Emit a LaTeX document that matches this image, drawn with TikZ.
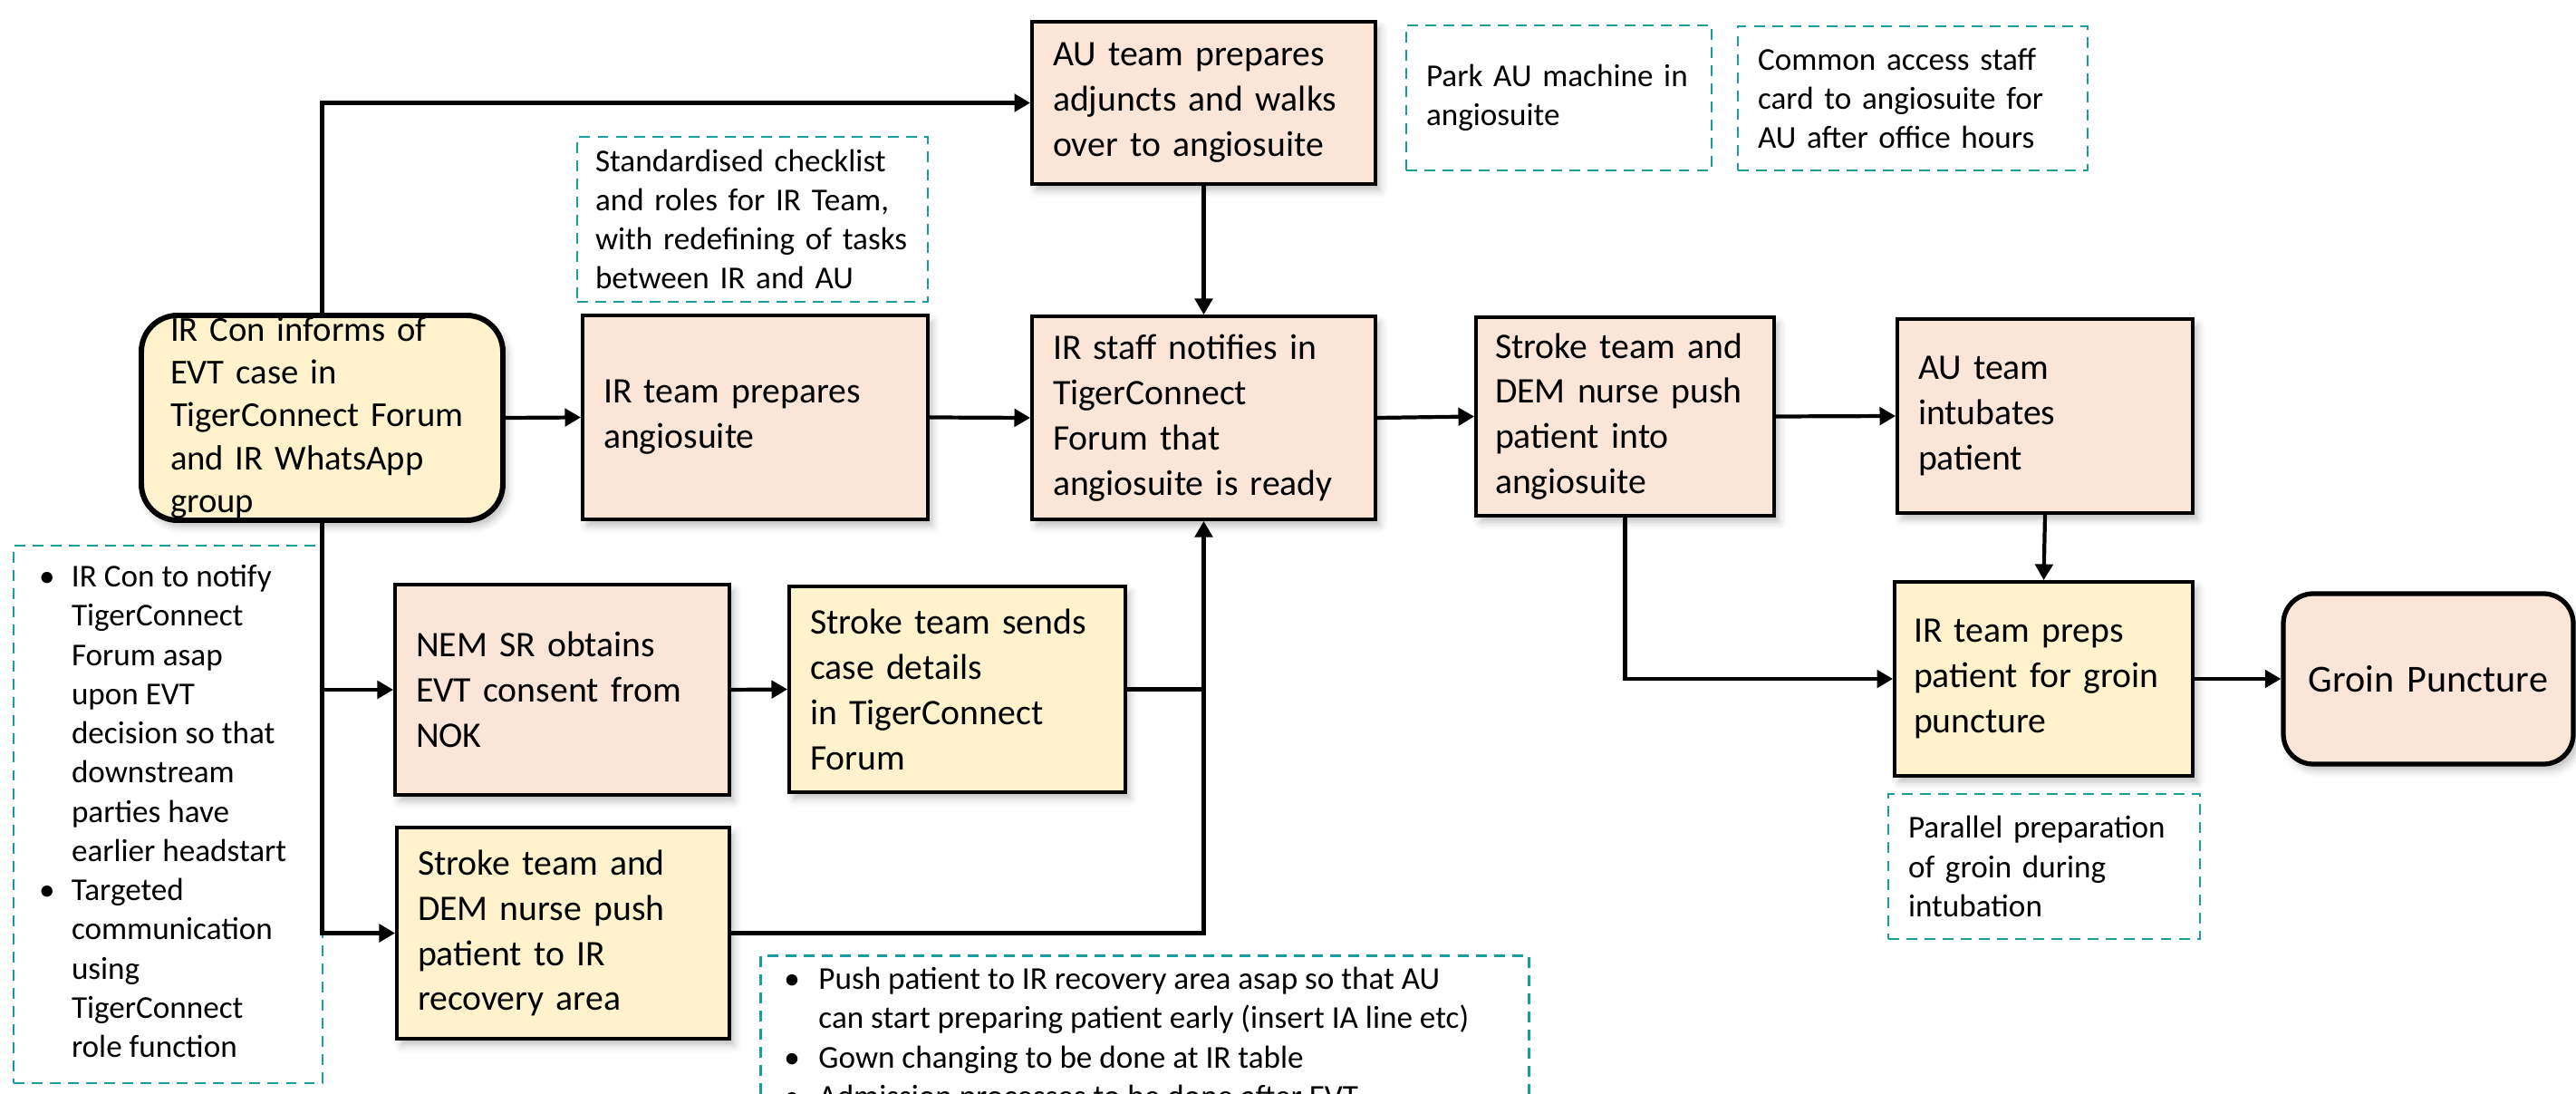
\documentclass[tikz,border=0pt]{standalone}
\usepackage{fontspec}
\setmainfont{Carlito}
\usepackage{xcolor}
\usepackage{tikz}
\usetikzlibrary{arrows.meta, positioning, shadows.blur}
\definecolor{boxpink}{RGB}{251, 229, 214}
\definecolor{boxyellow}{RGB}{255, 242, 204}
\definecolor{noteteal}{RGB}{25, 158, 158}

\tikzset{
    stepbox/.style={draw=black, line width=1.1pt, inner xsep=0.23cm, inner ysep=0pt,
        align=left, font=\fontsize{11.3}{14.2}\selectfont,
        blur shadow={shadow xshift=0.5mm, shadow yshift=-0.7mm, shadow blur radius=0.8mm, shadow opacity=25}},
    pinkbox/.style={stepbox, fill=boxpink},
    yellowbox/.style={stepbox, fill=boxyellow},
    notebox/.style={draw=noteteal, line width=0.8pt, dash pattern=on 3.4pt off 2.3pt,
        inner xsep=0.22cm, inner ysep=0pt, align=left, font=\fontsize{10}{12.3}\selectfont},
    conn/.style={draw=black, line width=1.2pt, -{Triangle[length=5pt, width=5.5pt]}},
}

\begin{document}
\begin{tikzpicture}
    \useasboundingbox (0, 0) rectangle (28.43, 12.06);

    % Notes
    \node[notebox, inner xsep=0.2cm, text width=3.47cm, minimum height=1.82cm] (checknote) at (8.305, 9.64) {Standardised checklist\\and roles for IR Team,\\with redefining of tasks\\between IR and AU};
    \node[notebox, text width=2.93cm, minimum height=1.60cm] (parknote) at (17.205, 10.98) {Park AU machine in\\angiosuite};
    \node[notebox, text width=3.42cm, minimum height=1.59cm] (cardnote) at (21.11, 10.975) {Common access staff\\card to angiosuite for\\AU after office hours};
    \node[notebox, text width=3.00cm, minimum height=1.60cm] (parallelnote) at (22.56, 2.50) {Parallel preparation\\of groin during\\intubation};
    \node[notebox, inner xsep=0.28cm, minimum height=5.93cm] (leftnote) at (1.855, 3.075) {%
        \begin{tabular}{@{}p{0.36cm}@{}p{2.49cm}@{}}
        \textbullet & IR Con to notify\newline TigerConnect\newline Forum asap\newline upon EVT\newline decision so that\newline downstream\newline parties have\newline earlier headstart\\
        \textbullet & Targeted\newline communication\newline using\newline TigerConnect\newline role function
        \end{tabular}};
    \node[notebox, anchor=north west, inner xsep=0.26cm, inner ysep=0.07cm] (bottomnote) at (8.38, 1.53) {%
        \begin{tabular}{@{}p{0.38cm}@{}p{7.58cm}@{}}
        \textbullet & Push patient to IR recovery area asap so that AU\newline can start preparing patient early (insert IA line etc)\\
        \textbullet & Gown changing to be done at IR table\\
        \textbullet & Admission processes to be done after EVT
        \end{tabular}};

    % Steps
    \node[yellowbox, rounded corners=0.4cm, line width=1.7pt, inner xsep=0.32cm, text width=3.35cm, minimum height=2.26cm,
        font=\fontsize{11}{13.5}\selectfont] (ircon) at (3.555, 7.45) {IR Con informs of\\EVT case in\\TigerConnect Forum\\and IR WhatsApp\\group};
    \node[pinkbox, text width=3.35cm, minimum height=2.25cm] (irprep) at (8.335, 7.455) {IR team prepares\\angiosuite};
    \node[pinkbox, text width=3.33cm, minimum height=1.79cm] (auprep) at (13.285, 10.925) {AU team prepares\\adjuncts and walks\\over to angiosuite};
    \node[pinkbox, text width=3.33cm, minimum height=2.24cm] (irnotify) at (13.285, 7.45) {IR staff notifies in\\TigerConnect\\Forum that\\angiosuite is ready};
    \node[pinkbox, inner xsep=0.21cm, text width=2.87cm, minimum height=2.19cm] (pushin) at (17.935, 7.465) {Stroke team and\\DEM nurse push\\patient into\\angiosuite};
    \node[pinkbox, text width=2.80cm, minimum height=2.14cm] (intubate) at (22.57, 7.47) {AU team\\intubates\\patient};
    \node[yellowbox, inner xsep=0.21cm, text width=2.87cm, minimum height=2.14cm] (preps) at (22.555, 4.57) {IR team preps\\patient for groin\\puncture};
    \node[pinkbox, rounded corners=0.33cm, line width=1.5pt, align=center, text width=2.74cm, minimum height=1.88cm,
        font=\fontsize{12}{14.2}\selectfont] (groin) at (26.80, 4.57) {Groin Puncture};
    \node[pinkbox, text width=3.23cm, minimum height=2.32cm] (nem) at (6.205, 4.45) {NEM SR obtains\\EVT consent from\\NOK};
    \node[yellowbox, text width=3.25cm, minimum height=2.27cm] (sends) at (10.565, 4.455) {Stroke team sends\\case details\\in TigerConnect\\Forum};
    \node[yellowbox, text width=3.21cm, minimum height=2.33cm] (recovery) at (6.215, 1.765) {Stroke team and\\DEM nurse push\\patient to IR\\recovery area};

    % Connectors
    \draw[conn] (ircon.north) |- (auprep.west);
    \draw[conn] (ircon.east) -- (irprep.west);
    \draw[conn] (irprep.east) -- (irnotify.west);
    \draw[conn] (auprep.south) -- (irnotify.north);
    \draw[conn] (irnotify.east) -- (pushin.west);
    \draw[conn] (pushin.east) -- (intubate.west);
    \draw[conn] (ircon.south) |- (nem.west);
    \draw[conn] (ircon.south) |- (recovery.west);
    \draw[conn] (nem.east) -- (sends.west);
    \draw[line width=1.2pt] (sends.east) -- (sends.east -| irnotify.south);
    \draw[conn] (recovery.east) -| (irnotify.south);
    \draw[conn] (pushin.south) |- (preps.west);
    \draw[conn] (intubate.south) -- (preps.north);
    \draw[conn] (preps.east) -- (groin.west);
\end{tikzpicture}
\end{document}
